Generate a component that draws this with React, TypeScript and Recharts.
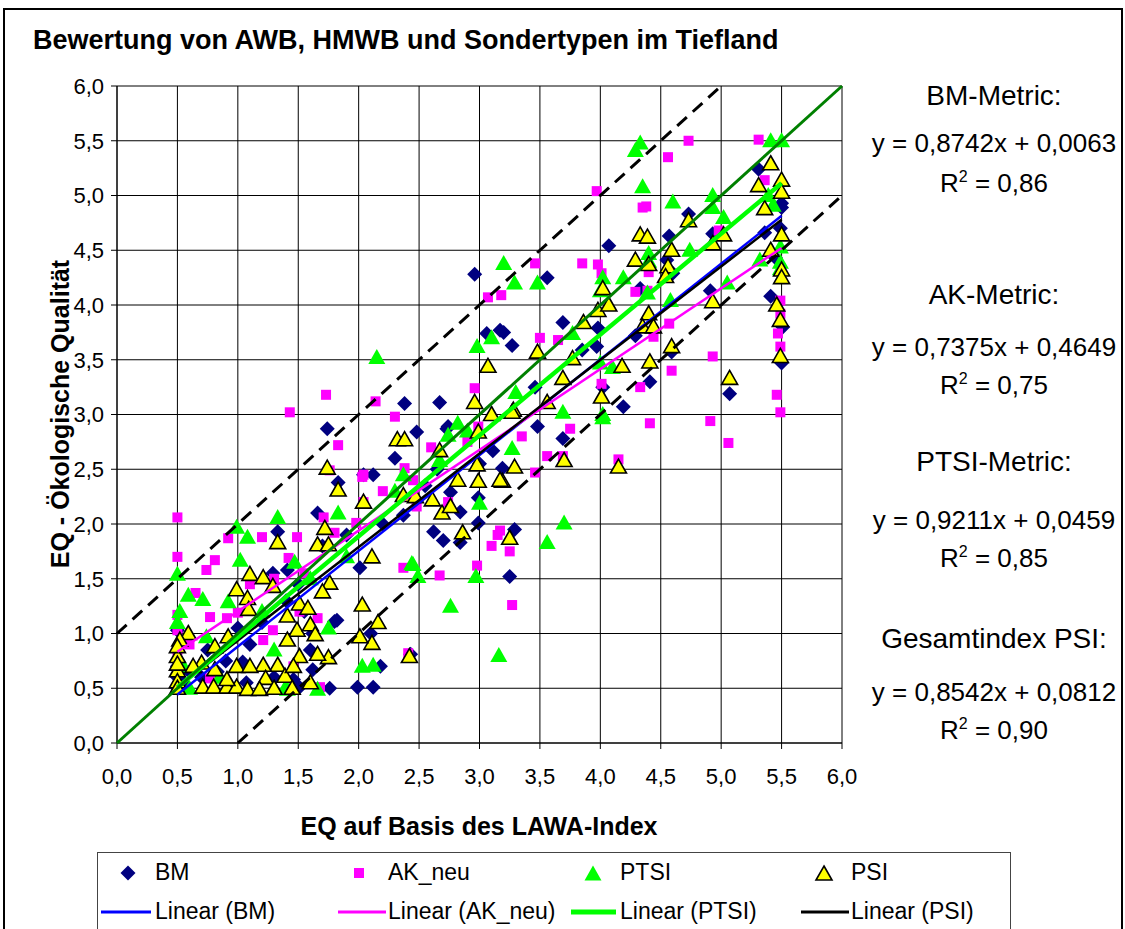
import React from 'react'
import { ScatterChart, Scatter, XAxis, YAxis, CartesianGrid } from 'recharts'

type Pt = [number, number]

// EQ LAWA-Index (x) vs. ökologische Qualität (y)
const bm: Pt[] = [
  [2.96, 4.28], [3.56, 4.25], [4.07, 4.54], [4.73, 4.83], [5.31, 5.24], [5.5, 4.93], [5.5, 4.89], [5.36, 4.66],
  [5.49, 4.7], [5.45, 4.43], [5.41, 4.08], [5.51, 3.8], [5.5, 3.47], [4.93, 4.65], [4.57, 4.63], [4.55, 4.41],
  [4.91, 4.13], [5.07, 3.19], [4.41, 3.3], [4.19, 3.07], [3.69, 3.84], [3.17, 3.77], [3.2, 3.75], [3.06, 3.74],
  [3.27, 3.63], [3.98, 3.79], [3.97, 3.62], [3.85, 3.59], [3.46, 3.25], [4.29, 3.72], [4.02, 3.25], [4.6, 4.29],
  [4.33, 4.15], [4.59, 3.57], [1.74, 2.87], [2.48, 2.84], [2.73, 2.87], [1.83, 2.38], [2.04, 2.45], [2.12, 2.45],
  [1.66, 2.1], [2.62, 1.93], [2.7, 1.85], [2.84, 1.83], [2.37, 2.08], [2.01, 1.6], [1.29, 1.55], [1.82, 1.12],
  [1.99, 0.51], [2.12, 0.51], [2.18, 0.7], [2.43, 0.81], [1.51, 0.51], [1.62, 0.67], [1.46, 0.58], [1.07, 0.55],
  [0.5, 0.7], [0.5, 1.03], [1.62, 1.0], [2.38, 3.1], [2.67, 3.11], [2.74, 2.89], [3.48, 2.89], [3.19, 2.51],
  [3.11, 2.67], [2.76, 2.29], [2.84, 2.11], [2.99, 2.01], [2.99, 2.24], [3.29, 1.95], [3.25, 1.52], [3.69, 2.78],
  [1.33, 1.93], [1.41, 1.58], [1.8, 1.11], [1.76, 0.5], [1.04, 0.74], [0.83, 0.65], [0.5, 0.5], [0.5, 0.6],
  [0.55, 0.55], [0.6, 0.65], [0.7, 0.6], [0.9, 0.75], [1.1, 0.9], [1.2, 1.1], [1.4, 1.3], [1.5, 1.45],
  [1.6, 0.85], [1.7, 1.8], [1.9, 1.9], [2.2, 2.0], [2.55, 2.35], [2.1, 1.0], [1.55, 1.2], [2.3, 2.6],
  [2.65, 2.5], [3.0, 2.55], [1.0, 1.05], [1.3, 0.6], [0.75, 0.85],
]

const akNeu: Pt[] = [
  [4.73, 5.5], [5.31, 5.51], [4.56, 5.35], [3.97, 5.04], [4.35, 4.89], [4.38, 4.9], [5.36, 5.14], [3.46, 4.38],
  [3.85, 4.38], [3.98, 4.37], [4.01, 4.29], [3.07, 4.07], [3.18, 4.09], [4.98, 4.68], [4.29, 4.12], [4.39, 4.13],
  [4.4, 4.3], [5.49, 4.04], [5.49, 3.92], [5.47, 3.74], [5.49, 3.62], [4.93, 3.53], [4.59, 3.4], [4.01, 3.28],
  [4.33, 3.25], [2.96, 3.24], [5.46, 3.18], [5.49, 3.02], [4.44, 3.71], [4.57, 3.83], [3.65, 3.68], [4.91, 2.94],
  [4.41, 2.92], [5.06, 2.74], [3.75, 2.87], [4.15, 2.59], [3.56, 2.62], [3.69, 2.62], [3.46, 2.47], [3.17, 1.94],
  [3.15, 1.9], [3.1, 1.8], [3.25, 1.75], [2.98, 1.62], [3.27, 1.26], [2.99, 2.89], [2.3, 2.98], [2.14, 3.12],
  [2.04, 2.45], [2.38, 2.51], [2.45, 2.4], [2.74, 2.2], [2.48, 2.16], [2.04, 2.2], [2.37, 1.6], [2.67, 1.53],
  [2.41, 0.82], [1.73, 3.18], [1.43, 3.02], [1.83, 2.72], [2.03, 2.43], [1.76, 2.49], [0.5, 2.06], [0.5, 1.7],
  [0.81, 1.67], [0.74, 1.58], [0.92, 1.87], [1.2, 1.88], [1.49, 1.88], [1.42, 1.69], [1.71, 2.06], [1.8, 1.92],
  [1.98, 2.01], [0.5, 1.17], [0.5, 1.03], [0.91, 1.14], [1.0, 1.19], [1.29, 1.03], [1.21, 0.94], [1.66, 1.14],
  [1.51, 1.2], [1.46, 0.7], [0.77, 0.59], [1.68, 0.51], [0.65, 1.37], [0.77, 1.15], [0.5, 0.85], [0.6, 0.9],
  [1.1, 1.45], [1.3, 1.5], [1.55, 1.55], [2.2, 2.3], [2.6, 2.7], [2.9, 2.75], [3.5, 3.7], [3.35, 2.8],
]

const ptsi: Pt[] = [
  [4.33, 5.48], [4.29, 5.41], [5.41, 5.5], [5.5, 5.5], [4.35, 5.08], [4.6, 4.94], [4.93, 5.0], [4.93, 4.89],
  [5.02, 4.8], [5.39, 5.0], [5.43, 4.91], [4.74, 4.5], [4.4, 4.47], [4.4, 4.4], [4.02, 4.25], [4.19, 4.25],
  [4.0, 4.13], [3.2, 4.38], [3.29, 4.2], [3.48, 4.2], [2.98, 3.62], [3.1, 3.7], [4.39, 4.11], [4.58, 4.04],
  [5.05, 4.2], [5.32, 4.41], [5.49, 4.53], [5.49, 4.39], [5.49, 4.33], [4.1, 3.43], [3.69, 3.02], [4.02, 3.0],
  [3.77, 3.74], [4.0, 3.47], [4.02, 2.97], [3.27, 2.69], [3.0, 2.19], [3.7, 2.01], [3.56, 1.83], [2.97, 1.52],
  [3.16, 0.8], [2.82, 2.92], [2.74, 2.81], [2.37, 2.45], [2.67, 2.58], [2.44, 1.64], [2.49, 1.52], [2.76, 1.25],
  [2.12, 0.71], [2.03, 0.7], [1.33, 2.06], [1.83, 2.1], [0.99, 1.97], [1.08, 1.88], [1.02, 1.67], [0.5, 1.54],
  [0.59, 1.35], [0.71, 1.31], [0.92, 1.29], [0.52, 1.2], [0.74, 0.97], [1.47, 1.65], [2.45, 1.63], [1.66, 0.49],
  [1.41, 0.49], [1.39, 0.5], [2.15, 3.52], [0.5, 1.1], [0.55, 0.7], [0.6, 0.5], [1.2, 1.2], [1.6, 1.5],
  [1.9, 1.7], [2.3, 2.3], [2.9, 2.85], [3.3, 3.2], [1.75, 1.05], [1.3, 0.85], [0.85, 0.6],
]

const psi: Pt[] = [
  [5.41, 5.29], [5.31, 5.09], [5.5, 5.14], [5.5, 5.03], [5.36, 4.88], [4.73, 4.77], [4.33, 4.64], [4.39, 4.62],
  [5.02, 4.64], [4.93, 4.56], [4.59, 4.5], [4.29, 4.41], [4.4, 4.37], [4.56, 4.35], [4.54, 4.26], [5.41, 4.5],
  [5.5, 4.64], [5.5, 4.32], [5.5, 4.25], [4.02, 4.15], [3.98, 3.95], [4.07, 4.0], [4.4, 3.92], [3.86, 3.84],
  [4.35, 3.8], [4.44, 3.8], [4.93, 4.03], [5.46, 4.0], [5.49, 3.86], [5.49, 3.53], [4.59, 3.62], [4.41, 3.48],
  [4.18, 3.44], [5.07, 3.33], [3.48, 3.57], [3.07, 3.44], [2.96, 3.11], [3.69, 3.33], [4.01, 3.16], [3.28, 3.04],
  [3.1, 3.0], [3.56, 3.11], [3.77, 3.51], [3.29, 2.52], [3.7, 2.58], [4.15, 2.52], [2.99, 2.39], [3.19, 2.39],
  [3.25, 1.87], [2.86, 1.92], [3.27, 3.02], [2.32, 2.77], [2.38, 2.77], [2.67, 2.67], [2.99, 2.84], [2.98, 2.54],
  [3.17, 2.4], [2.82, 2.4], [2.37, 2.26], [2.47, 2.25], [2.61, 2.22], [2.69, 2.1], [2.76, 2.16], [2.04, 2.2],
  [2.11, 1.7], [2.03, 1.26], [2.16, 1.1], [2.11, 0.91], [2.01, 0.97], [2.42, 0.79], [1.74, 2.51], [1.83, 2.31],
  [1.72, 1.96], [1.66, 1.81], [1.75, 1.81], [1.33, 1.83], [1.76, 1.46], [1.7, 1.38], [1.1, 1.54], [1.21, 1.51],
  [0.99, 1.4], [1.08, 1.32], [1.29, 1.43], [1.51, 1.27], [1.58, 1.23], [1.41, 1.16], [1.09, 1.22], [1.49, 1.03],
  [1.6, 1.08], [1.64, 0.99], [1.41, 0.94], [1.75, 0.78], [1.66, 0.81], [1.51, 0.79], [1.33, 0.71], [1.21, 0.71],
  [0.99, 0.7], [1.1, 0.7], [1.39, 0.61], [1.23, 0.59], [0.81, 0.88], [0.92, 0.97], [0.59, 1.0], [0.52, 0.94],
  [0.5, 0.79], [0.5, 0.66], [0.5, 0.56], [0.5, 0.5], [0.71, 0.51], [0.8, 0.51], [0.91, 0.51], [0.99, 0.51],
  [1.08, 0.49], [1.18, 0.49], [0.91, 0.58], [0.7, 0.73], [0.63, 0.7], [0.81, 0.67], [1.46, 0.7], [0.5, 0.88],
  [0.5, 0.72], [1.3, 0.5], [1.45, 0.5], [1.6, 0.55],
]

// linear fits as printed on the chart: [slope, intercept]
const bmFit = [0.8742, 0.0063]
const akFit = [0.7375, 0.4649]
const ptsiFit = [0.9211, 0.0459]
const psiFit = [0.8542, 0.0812]
const fitRange = [0.5, 5.5]

const metricNames = ['BM-Metric:', 'AK-Metric:', 'PTSI-Metric:', 'Gesamtindex PSI:']
const r2Values = ['0,86', '0,75', '0,85', '0,90']

// 1:1 line and the +/- 1 band
const diagLine: Pt[] = [[0, 0], [6, 6]]
const upperBand: Pt[] = [[0, 1], [5, 6]]
const lowerBand: Pt[] = [[1, 0], [6, 5]]

const axisTicks = [0, 0.5, 1, 1.5, 2, 2.5, 3, 3.5, 4, 4.5, 5, 5.5, 6]

const FONT = '"Liberation Sans", Arial, sans-serif'

const rows = (pts: Pt[]) => pts.map(([x, y]) => ({ x, y }))
const fitRows = (f: number[]) => fitRange.map(x => ({ x, y: f[0] * x + f[1] }))
const comma = (v: number, d: number) => v.toFixed(d).replace('.', ',')
const fmtEq = (f: number[]) => `y = ${comma(f[0], 4)}x + ${comma(f[1], 4)}`

const Diamond = ({ cx, cy }: any) => (
  <polygon points={`${cx},${cy - 7.5} ${cx + 7.5},${cy} ${cx},${cy + 7.5} ${cx - 7.5},${cy}`} fill="#000080" />
)
const Square = ({ cx, cy }: any) => <rect x={cx - 5} y={cy - 5} width={10} height={10} fill="#ff00ff" />
const GreenTri = ({ cx, cy }: any) => (
  <polygon points={`${cx},${cy - 8.5} ${cx + 8.5},${cy + 6.5} ${cx - 8.5},${cy + 6.5}`} fill="#00ff00" />
)
const YellowTri = ({ cx, cy }: any) => (
  <polygon
    points={`${cx},${cy - 8} ${cx + 8},${cy + 6} ${cx - 8},${cy + 6}`}
    fill="#ffff00"
    stroke="#000"
    strokeWidth={1.6}
    strokeLinejoin="miter"
  />
)
const NoDot = () => <g />

function LegendBox() {
  const txt: React.CSSProperties = { position: 'absolute', fontSize: 23, fontFamily: FONT, lineHeight: '23px' }
  const row1 = 860
  const row2 = 899
  return (
    <div
      style={{
        position: 'absolute', left: 97, top: 852, width: 912, height: 77,
        border: '1.5px solid #444', borderBottom: 'none', background: '#fff',
      }}
    >
      <svg width={912} height={77} style={{ position: 'absolute', left: 0, top: 0 }}>
        <Diamond cx={30} cy={20} />
        <Square cx={261} cy={20} />
        <GreenTri cx={495} cy={21} />
        <YellowTri cx={726} cy={21} />
        <line x1={3} x2={53} y1={59} y2={59} stroke="#0000ff" strokeWidth={3} />
        <line x1={240} x2={288} y1={59} y2={59} stroke="#ff00ff" strokeWidth={3} />
        <line x1={473} x2={518} y1={59} y2={59} stroke="#00ff00" strokeWidth={5} />
        <line x1={703} x2={751} y1={59} y2={59} stroke="#000" strokeWidth={3} />
      </svg>
      <span style={{ ...txt, left: 57, top: row1 - 852 }}>BM</span>
      <span style={{ ...txt, left: 290, top: row1 - 852 }}>AK_neu</span>
      <span style={{ ...txt, left: 522, top: row1 - 852 }}>PTSI</span>
      <span style={{ ...txt, left: 753, top: row1 - 852 }}>PSI</span>
      <span style={{ ...txt, left: 57, top: row2 - 852 }}>Linear (BM)</span>
      <span style={{ ...txt, left: 290, top: row2 - 852 }}>Linear (AK_neu)</span>
      <span style={{ ...txt, left: 522, top: row2 - 852 }}>Linear (PTSI)</span>
      <span style={{ ...txt, left: 753, top: row2 - 852 }}>Linear (PSI)</span>
    </div>
  )
}

function FitNotes() {
  const fits = [bmFit, akFit, ptsiFit, psiFit]
  const tops = [
    [82, 130, 164],
    [281, 334, 366],
    [448, 507, 539],
    [625, 679, 711],
  ]
  const box: React.CSSProperties = {
    position: 'absolute', left: 862, width: 264, textAlign: 'center',
    fontFamily: FONT, fontSize: 26, lineHeight: '26px', whiteSpace: 'nowrap',
  }
  return (
    <>
      {metricNames.map((name, i) => (
        <React.Fragment key={name}>
          <div style={{ ...box, top: tops[i][0], fontSize: 28, lineHeight: '28px' }}>{name}</div>
          <div style={{ ...box, top: tops[i][1] }}>{fmtEq(fits[i])}</div>
          <div style={{ ...box, top: tops[i][2] }}>
            R<sup style={{ fontSize: 16, verticalAlign: 10 }}>2</sup> = {r2Values[i]}
          </div>
        </React.Fragment>
      ))}
    </>
  )
}

export default function App() {
  const tick = { fill: '#000', fontSize: 22, fontFamily: FONT }
  return (
    <div style={{ position: 'absolute', left: 0, top: 0, width: 1125, height: 929, background: '#fff', overflow: 'hidden' }}>
      <div
        style={{
          position: 'absolute', left: 3, top: 8, width: 1116, height: 921,
          border: '2px solid #000', borderBottom: 'none',
        }}
      />
      <div
        style={{
          position: 'absolute', left: 33, top: 27, fontFamily: FONT, fontWeight: 'bold',
          fontSize: 27, lineHeight: '27px', whiteSpace: 'nowrap',
        }}
      >
        Bewertung von AWB, HMWB und Sondertypen im Tiefland
      </div>

      <div style={{ position: 'absolute', left: 0, top: 0 }}>
        <ScatterChart width={1125} height={929} margin={{ top: 86, right: 283, bottom: 146, left: 57 }}>
          <CartesianGrid stroke="#000" strokeWidth={1} />
          <XAxis
            type="number"
            dataKey="x"
            domain={[0, 6]}
            ticks={axisTicks}
            interval={0}
            tickFormatter={v => comma(v, 1)}
            tick={tick}
            tickMargin={19}
            tickSize={6}
            height={40}
            stroke="#000"
          />
          <YAxis
            type="number"
            dataKey="y"
            domain={[0, 6]}
            ticks={axisTicks}
            interval={0}
            tickFormatter={v => comma(v, 1)}
            tick={tick}
            tickMargin={7}
            tickSize={6}
            width={60}
            stroke="#000"
          />
          <Scatter name="BM" data={rows(bm)} shape={Diamond} isAnimationActive={false} />
          <Scatter name="AK_neu" data={rows(akNeu)} shape={Square} isAnimationActive={false} />
          <Scatter name="PTSI" data={rows(ptsi)} shape={GreenTri} isAnimationActive={false} />
          <Scatter name="PSI" data={rows(psi)} shape={YellowTri} isAnimationActive={false} />

          <Scatter data={fitRows(bmFit)} shape={NoDot} lineType="joint" line={{ stroke: '#0000ff', strokeWidth: 2.5 }} isAnimationActive={false} />
          <Scatter data={fitRows(akFit)} shape={NoDot} lineType="joint" line={{ stroke: '#ff00ff', strokeWidth: 2.5 }} isAnimationActive={false} />
          <Scatter data={fitRows(psiFit)} shape={NoDot} lineType="joint" line={{ stroke: '#000', strokeWidth: 2.5 }} isAnimationActive={false} />
          <Scatter data={fitRows(ptsiFit)} shape={NoDot} lineType="joint" line={{ stroke: '#00ff00', strokeWidth: 4.5 }} isAnimationActive={false} />
          <Scatter data={rows(upperBand)} shape={NoDot} lineType="joint" line={{ stroke: '#000', strokeWidth: 3, strokeDasharray: '13 8' }} isAnimationActive={false} />
          <Scatter data={rows(lowerBand)} shape={NoDot} lineType="joint" line={{ stroke: '#000', strokeWidth: 3, strokeDasharray: '13 8' }} isAnimationActive={false} />
          <Scatter data={rows(diagLine)} shape={NoDot} lineType="joint" line={{ stroke: '#008000', strokeWidth: 3 }} isAnimationActive={false} />
        </ScatterChart>
      </div>

      <div
        style={{
          position: 'absolute', left: 60, top: 414, transform: 'translate(-50%, -50%) rotate(-90deg)',
          fontFamily: FONT, fontWeight: 'bold', fontSize: 25, whiteSpace: 'nowrap',
        }}
      >
        EQ - Ökologische Qualität
      </div>
      <div
        style={{
          position: 'absolute', left: 479, top: 826, transform: 'translate(-50%, -50%)',
          fontFamily: FONT, fontWeight: 'bold', fontSize: 25, whiteSpace: 'nowrap',
        }}
      >
        EQ auf Basis des LAWA-Index
      </div>

      <FitNotes />
      <LegendBox />
    </div>
  )
}
